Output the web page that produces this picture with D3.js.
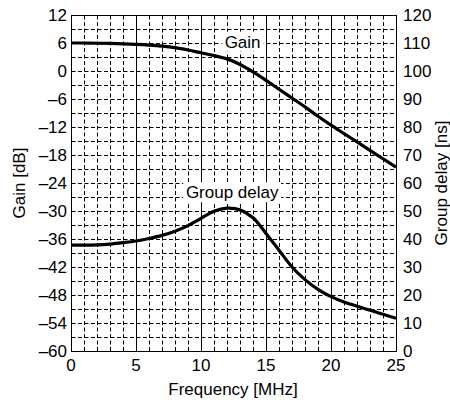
<!DOCTYPE html>
<html><head><meta charset="utf-8">
<script src="https://cdn.jsdelivr.net/npm/d3@7"></script>
<style>body{margin:0;background:#fff}svg{display:block}text{font-family:"Liberation Sans",Arial,sans-serif;fill:#000}</style>
</head><body><svg id="c" width="450" height="403"></svg>
<script>
const freq = [0,1,2,3,4,5,6,7,8,9,10,11,12,13,14,15,16,17,18,19,20,21,22,23,24,25];
const gainDb = [6.0,6.0,5.95,5.9,5.8,5.7,5.55,5.33,5.0,4.5,3.9,3.3,2.6,1.4,-0.2,-2.0,-3.9,-5.8,-7.7,-9.7,-11.6,-13.4,-15.2,-17.0,-18.8,-20.6];
const delayNs = [37.8,37.8,37.9,38.2,38.7,39.3,40.2,41.3,42.8,44.8,47.4,49.9,51.0,50.4,47.6,42.0,36.0,30.0,25.5,22.0,19.4,17.5,16.0,14.6,13.1,11.7];
const xTicks = [0,5,10,15,20,25];
const gainTicks = [12,6,0,-6,-12,-18,-24,-30,-36,-42,-48,-54,-60];
const delayTicks = [0,10,20,30,40,50,60,70,80,90,100,110,120];
const xMinor = d3.range(0,26,1);
const gainMinor = d3.range(-60,13,3);

const L=71,R=396,T=15,B=351;
const svg=d3.select("#c");
const x=d3.scaleLinear().domain([0,25]).range([L,R]);
const yG=d3.scaleLinear().domain([-60,12]).range([B,T]);
const yD=d3.scaleLinear().domain([0,120]).range([B,T]);
const g=svg.append("g").attr("transform","translate(0.5,0.5)");

// grid
g.selectAll(".vg").data(xMinor.filter(d=>d>0&&d<25)).join("line")
 .attr("x1",d=>Math.round(x(d))).attr("x2",d=>Math.round(x(d))).attr("y1",T).attr("y2",B)
 .attr("stroke","#000").attr("stroke-width",1)
 .attr("stroke-dasharray",d=>d%5===0?null:"4,2.5");
g.selectAll(".hg").data(gainMinor.filter(d=>d>-60&&d<12)).join("line")
 .attr("y1",d=>Math.round(yG(d))).attr("y2",d=>Math.round(yG(d))).attr("x1",L).attr("x2",R)
 .attr("stroke","#000").attr("stroke-width",1).attr("stroke-dasharray","4,2.5");

// label boxes
function label(txt,cx,cy,w,h){
  svg.append("rect").attr("x",cx-w/2).attr("y",cy-h/2).attr("width",w).attr("height",h).attr("fill","#fff");
  svg.append("text").attr("x",cx).attr("y",cy).attr("dy","0.36em").attr("text-anchor","middle").attr("font-size",17).text(txt);
}
label("Gain",x(13.2),yG(6.3),42,20);
label("Group delay",x(12.4),yD(56.7),98,20);

// frame
g.append("rect").attr("x",L).attr("y",T).attr("width",R-L).attr("height",B-T).attr("fill","none").attr("stroke","#000").attr("stroke-width",1);

// curves
const crv=d3.curveCatmullRom.alpha(0.5);
svg.append("path").datum(freq.map((f,i)=>[f,gainDb[i]]))
 .attr("d",d3.line().x(d=>x(d[0])).y(d=>yG(d[1])).curve(crv))
 .attr("fill","none").attr("stroke","#000").attr("stroke-width",3.2);
svg.append("path").datum(freq.map((f,i)=>[f,delayNs[i]]))
 .attr("d",d3.line().x(d=>x(d[0])).y(d=>yD(d[1])).curve(crv))
 .attr("fill","none").attr("stroke","#000").attr("stroke-width",3.2);

// tick labels
const fmt=d=>d<0?"\u2013"+Math.abs(d):String(d);
svg.selectAll(".xl").data(xTicks).join("text").attr("x",d=>x(d)).attr("y",371)
 .attr("text-anchor","middle").attr("font-size",17).text(d=>d);
svg.selectAll(".gl").data(gainTicks).join("text").attr("x",67).attr("y",d=>yG(d)).attr("dy","0.36em")
 .attr("text-anchor","end").attr("font-size",17).text(fmt);
svg.selectAll(".dl").data(delayTicks).join("text").attr("x",403).attr("y",d=>yD(d)).attr("dy","0.36em")
 .attr("text-anchor","start").attr("font-size",17).text(d=>d);

// axis titles
svg.append("text").attr("x",233).attr("y",395).attr("text-anchor","middle").attr("font-size",17).text("Frequency [MHz]");
svg.append("text").attr("transform","translate(25,183) rotate(-90)").attr("text-anchor","middle").attr("font-size",17).text("Gain [dB]");
svg.append("text").attr("transform","translate(447,183) rotate(-90)").attr("text-anchor","middle").attr("font-size",17).text("Group delay [ns]");
</script></body></html>
